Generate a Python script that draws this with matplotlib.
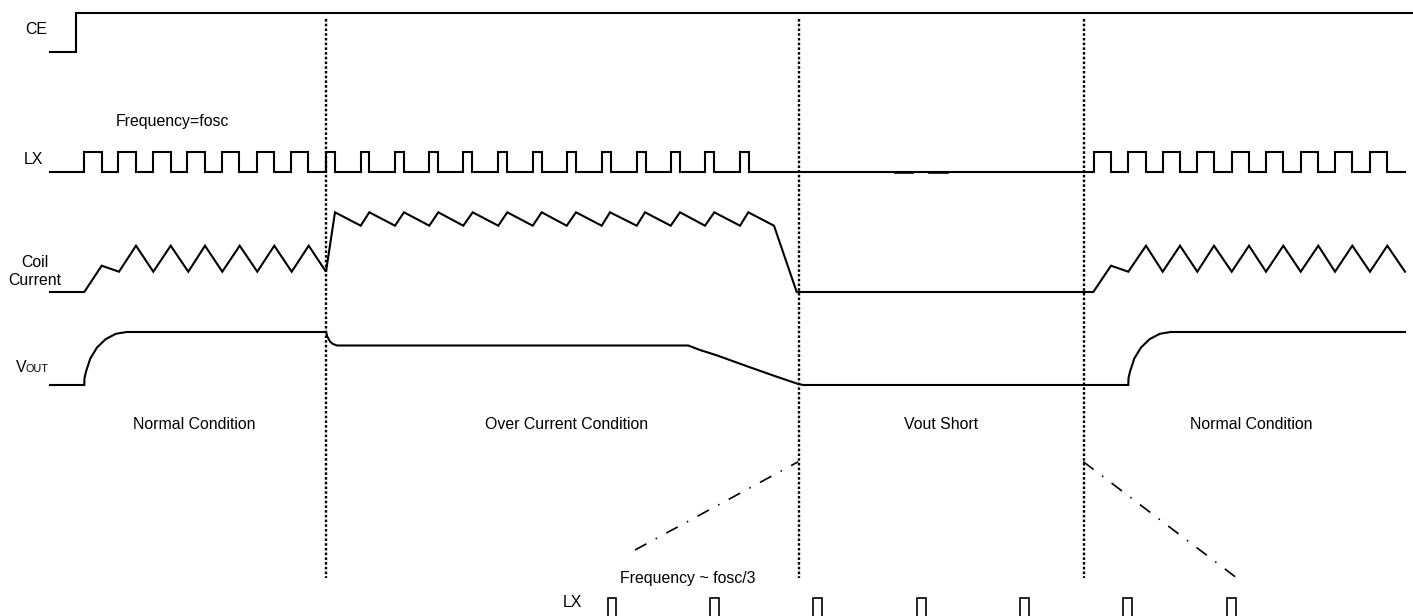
import matplotlib.pyplot as plt

# ==========================================
# 1. Waveform data (pixel units)
# ==========================================
ce_x = [50, 76, 76, 1413]
ce_y = [52, 52, 13, 13]

# LX at fosc / over-current / back to normal: rising and falling edges
lx_rise = [84.3, 118.3, 153.3, 187.3, 221.7, 256.7, 291.0,
           326.0, 360.7, 395.0, 429.3, 463.3, 498.3, 532.7, 566.7, 601.7, 636.7, 670.7, 705.0, 740.0,
           1094.3, 1128.3, 1162.7, 1197.3, 1231.7, 1266.0, 1300.7, 1335.0, 1370.0]
lx_fall = [102.0, 136.0, 170.7, 205.0, 239.3, 274.0, 308.3,
           335.0, 369.3, 404.0, 438.3, 472.3, 507.3, 541.7, 575.7, 610.7, 645.7, 679.7, 714.0, 749.0,
           1111.0, 1145.7, 1180.0, 1214.0, 1249.0, 1283.3, 1318.3, 1352.3, 1387.3]
lx_start, lx_end = 50, 1405
lx_low, lx_high = 172, 152
lx_blips = [(895, 912), (929, 947)]

coil_x = [50, 84.3, 101.7, 119, 136, 153.3, 170.7, 188.3, 205, 222.3, 239.7, 257.3, 274.3, 291.7, 308.7, 326,
          335, 360.7, 369.3, 395, 404, 429.3, 438.3, 463.3, 472.7, 498.3, 507.3, 532.7, 541.7, 566.7, 576,
          601.7, 610, 636.7, 645, 670.7, 680, 705, 714.3, 740, 748.3, 774, 796.7,
          1093.3, 1111, 1128.3, 1146, 1162.7, 1180, 1197.3, 1214, 1231.7, 1249, 1266, 1283.3, 1300.7,
          1318.3, 1335, 1352.3, 1370, 1387.3, 1405]
coil_y = [292, 292, 265.7, 271.7, 245.7, 271.7, 245.7, 271.7, 245.7, 271.7, 245.7, 271.7, 245.7, 271.7, 245.7, 271.7,
          212.3, 225.7, 212.3, 225.7, 212.3, 225.7, 212.3, 225.7, 212.3, 225.7, 212.3, 225.7, 212.3, 225.7, 212.3,
          225.7, 212.3, 225.7, 212.3, 225.7, 212.3, 225.7, 212.3, 225.7, 212.3, 225.7, 292,
          292, 265.7, 271.7, 245.7, 271.7, 245.7, 271.7, 245.7, 271.7, 245.7, 271.7, 245.7, 271.7,
          245.7, 271.7, 245.7, 271.7, 245.7, 271.7]

vout_x = [50, 84.3, 84.5, 86.1, 90.3, 97, 105.7, 115.8, 126.7, 326, 327.5, 330, 333, 337,
          688.3, 700, 716.7, 750, 776.7, 798.3, 803.3,
          1128.3, 1128.5, 1130.1, 1134.3, 1141, 1149.7, 1159.8, 1170.7, 1405]
vout_y = [385, 385, 378, 371.3, 358.5, 347.5, 339.1, 333.8, 332, 332, 337, 341.5, 344, 345.5,
          345.5, 350, 355.3, 367.3, 376.7, 384, 385,
          385, 378, 371.3, 358.5, 347.5, 339.1, 333.8, 332, 332]

# region borders and zoom lines
border_x = [326, 798.5, 1083.5]
border_top, border_bottom = 19, 578
zoom_left_x, zoom_left_y = [635, 798.3], [550, 461.7]
zoom_right_x, zoom_right_y = [1083.3, 1241.7], [461.7, 581.7]

# LX at fosc/3 (bottom), left edges
lx3_rise = [608, 710, 813, 917, 1020, 1123, 1227]
lx3_width = [8, 9, 9, 9, 9, 9, 9]
lx3_top, lx3_base = 597.7, 625

conditions = ["Normal Condition", "Over Current Condition", "Vout Short", "Normal Condition"]
condition_x = [194, 566.5, 941, 1251]

# ==========================================
# 2. Figure
# ==========================================
plt.rcParams['font.family'] = ['Liberation Sans', 'DejaVu Sans']
fig = plt.figure(figsize=(14.13, 6.16), dpi=100)
ax = fig.add_axes([0, 0, 1, 1])
ax.set_xlim(0, 1413)
ax.set_ylim(616, 0)
ax.axis('off')

lw = 1.5
kw = dict(color='black', lw=lw, solid_joinstyle='miter')

ax.plot(ce_x, ce_y, **kw)

# build LX polyline from edges
lx_x, lx_y = [lx_start], [lx_low]
for r, f in zip(lx_rise, lx_fall):
    lx_x += [r, r, f, f]
    lx_y += [lx_low, lx_high, lx_high, lx_low]
lx_x.append(lx_end)
lx_y.append(lx_low)
ax.plot(lx_x, lx_y, **kw)
for a, b in lx_blips:
    ax.plot([a, b], [lx_low, lx_low], color='black', lw=1.9)

ax.plot(coil_x, coil_y, **kw)
ax.plot(vout_x, vout_y, **kw)

for x in border_x:
    ax.plot([x, x], [border_top, border_bottom], color='black', lw=1.7,
            linestyle=(0, (1.1, 0.9)))

dashdot = (0, (7.8, 6.3, 0.9, 6.3))
ax.plot(zoom_left_x, zoom_left_y, color='black', lw=1.2, linestyle=dashdot)
ax.plot(zoom_right_x, zoom_right_y, color='black', lw=1.2, linestyle=dashdot)

for r, w in zip(lx3_rise, lx3_width):
    ax.plot([r, r, r + w, r + w], [lx3_base, lx3_top, lx3_top, lx3_base],
            color='black', lw=1.2, solid_joinstyle='miter')

# ==========================================
# 3. Labels
# ==========================================
fs = 11.4
ax.text(36, 34.3, "CE", fontsize=fs, ha='center', va='baseline')
ax.text(172, 126, "Frequency=fosc", fontsize=fs, ha='center', va='baseline')
ax.text(33.5, 164, "LX", fontsize=fs, ha='center', va='baseline')
ax.text(35, 267, "Coil", fontsize=fs, ha='center', va='baseline')
ax.text(34.7, 285, "Current", fontsize=fs, ha='center', va='baseline')
ax.text(16, 371.7, "V", fontsize=fs, ha='left', va='baseline')
ax.text(25, 371.7, "OUT", fontsize=7.8, ha='left', va='baseline')
for label, x in zip(conditions, condition_x):
    ax.text(x, 429.3, label, fontsize=fs, ha='center', va='baseline')
ax.text(687.5, 583.3, "Frequency ~ fosc/3", fontsize=fs, ha='center', va='baseline')
ax.text(572, 606.7, "LX", fontsize=fs, ha='center', va='baseline')

fig.savefig('out.png', dpi=100)
